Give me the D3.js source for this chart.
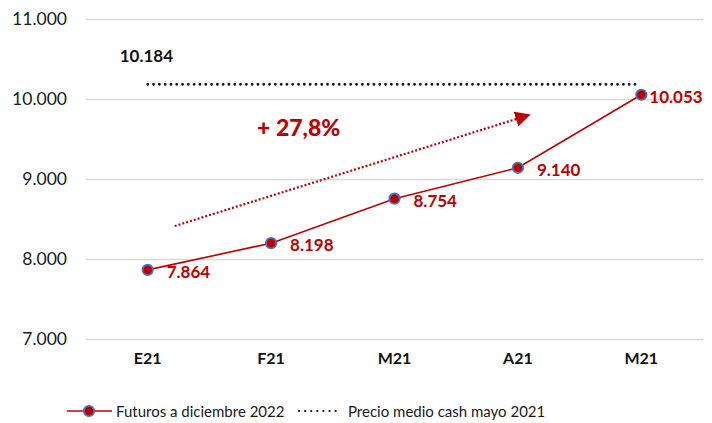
<!DOCTYPE html>
<html>
<head>
<meta charset="utf-8">
<script src="https://cdn.jsdelivr.net/npm/d3@7"></script>
<style>
  body { margin: 0; background: #fff; }
  svg { font-family: "Lato", "Liberation Sans", sans-serif; }
</style>
</head>
<body>
<div id="chart"></div>
<script>
// data
var months = ["E21", "F21", "M21", "A21", "M21"];
var futuros = [7864, 8198, 8754, 9140, 10053];
var cashMayo = 10184;
var yTicks = [7000, 8000, 9000, 10000, 11000];
var subida = "+ 27,8%";

var red = "#C00000", blue = "#4472C4";
var W = 712, H = 423;
var m = {top: 19, right: 9, bottom: 84, left: 86};

var svg = d3.select("#chart").append("svg").attr("width", W).attr("height", H);

var x = d3.scaleBand().domain(d3.range(months.length)).range([m.left, W - m.right]);
var y = d3.scaleLinear().domain([7000, 11000]).range([H - m.bottom, m.top]);
var cx = function(i){ return x(i) + x.bandwidth() / 2; };
var fmt = function(v){ return d3.format(",")(v).replace(/,/g, "."); };

// gridlines + y labels
var yAxis = d3.axisLeft(y).tickValues(yTicks).tickFormat(fmt).tickSize(-(W - m.left - m.right)).tickPadding(19);
var gy = svg.append("g").attr("transform", "translate(" + m.left + ",0)").call(yAxis);
gy.select(".domain").remove();
gy.selectAll("line").attr("stroke", "#d9d9d9").attr("stroke-width", 1.3);
gy.selectAll("text").attr("font-size", 17.5).attr("fill", "#1a1a1a").style("font-family", "Lato, sans-serif");

// x labels
var xAxis = d3.axisBottom(x).tickFormat(function(i){ return months[i]; }).tickSize(0).tickPadding(14);
var gx = svg.append("g").attr("transform", "translate(0," + (H - m.bottom) + ")").call(xAxis);
gx.select(".domain").remove();
gx.selectAll("text").attr("font-size", 16).attr("font-weight", "bold").attr("fill", "#111").style("font-family", "Lato, sans-serif");

// cash price dotted line
svg.append("line")
  .attr("x1", cx(0)).attr("x2", cx(4) - 2)
  .attr("y1", y(cashMayo)).attr("y2", y(cashMayo))
  .attr("stroke", "#111").attr("stroke-width", 2.8).attr("stroke-linecap", "round").attr("stroke-dasharray", "0.1,5.7");
svg.append("text").attr("x", cx(0) - 28).attr("y", y(cashMayo) - 22)
  .attr("font-size", 17).attr("font-weight", "bold").attr("fill", "#111").text(fmt(cashMayo));

// growth arrow
svg.append("defs").append("marker").attr("id", "ah")
  .attr("viewBox", "0 0 10 10").attr("refX", 2).attr("refY", 5)
  .attr("markerWidth", 7).attr("markerHeight", 7).attr("markerUnits", "strokeWidth").attr("orient", "auto")
  .append("path").attr("d", "M0,0L10,5L0,10Z").attr("fill", red);
svg.append("line")
  .attr("x1", cx(0) + 27).attr("y1", y(8412))
  .attr("x2", cx(3) + 1).attr("y2", y(9760))
  .attr("stroke", red).attr("stroke-width", 2.2).attr("stroke-dasharray", "2,2")
  .attr("marker-end", "url(#ah)");
svg.append("text").attr("x", cx(1) - 14).attr("y", y(9540))
  .attr("font-size", 23).attr("font-weight", 900).attr("fill", red).text(subida);

// series line
var line = d3.line().x(function(d, i){ return cx(i); }).y(function(d){ return y(d); });
svg.append("path").datum(futuros).attr("d", line)
  .attr("fill", "none").attr("stroke", red).attr("stroke-width", 1.6);
svg.selectAll(".pt").data(futuros).enter().append("circle")
  .attr("cx", function(d, i){ return cx(i); }).attr("cy", function(d){ return y(d); })
  .attr("r", 5.2).attr("fill", red).attr("stroke", blue).attr("stroke-width", 1.8);
svg.selectAll(".lbl").data(futuros).enter().append("text")
  .attr("x", function(d, i){ return cx(i) + (i == 4 ? 8 : 19); })
  .attr("y", function(d){ return y(d) + 8; })
  .attr("font-size", 17).attr("font-weight", "bold").attr("fill", red)
  .text(function(d){ return fmt(d); });

// legend
var ly = 411;
var lg = svg.append("g");
lg.append("line").attr("x1", 67).attr("x2", 112).attr("y1", ly).attr("y2", ly).attr("stroke", red).attr("stroke-width", 1.6);
lg.append("circle").attr("cx", 89).attr("cy", ly).attr("r", 5.2).attr("fill", red).attr("stroke", blue).attr("stroke-width", 1.8);
lg.append("text").attr("x", 116).attr("y", ly + 5.5).attr("font-size", 15).attr("fill", "#1a1a1a").text("Futuros a diciembre 2022");
lg.append("line").attr("x1", 299).attr("x2", 336).attr("y1", ly).attr("y2", ly)
  .attr("stroke", "#111").attr("stroke-width", 2.2).attr("stroke-linecap", "round").attr("stroke-dasharray", "0.1,6");
lg.append("text").attr("x", 348).attr("y", ly + 5.5).attr("font-size", 15).attr("fill", "#1a1a1a").text("Precio medio cash mayo 2021");
</script>
</body>
</html>
